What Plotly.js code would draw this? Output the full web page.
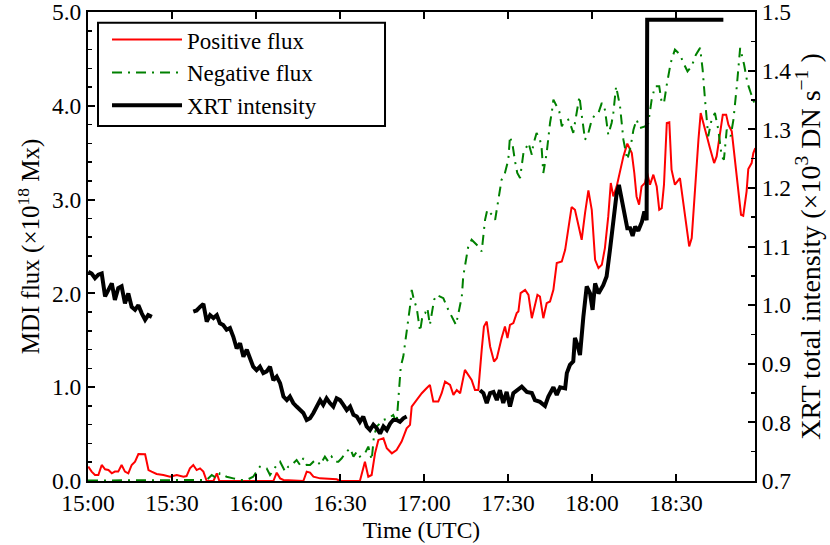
<!DOCTYPE html>
<html>
<head>
<meta charset="utf-8">
<script src="https://cdn.plot.ly/plotly-3.0.1.min.js"></script>
<style>html,body{margin:0;padding:0;background:#fff}#chart{width:830px;height:545px}</style>
</head>
<body>
<div id="chart"></div>
<script>
// minutes after 15:00 UTC
const tickVals = [0, 30, 60, 90, 120, 150, 180, 210];
const tickLabels = ["15:00", "15:30", "16:00", "16:30", "17:00", "17:30", "18:00", "18:30"];

const posTime = [0.1,1.3,2.5,3.7,4.9,6.1,7.3,8.5,9.6,10.8,12.0,13.2,14.4,15.6,16.8,18.0,20.4,21.6,22.7,24.5,26.9,29.3,31.7,34.1,35.2,36.4,37.6,38.8,40.0,41.2,42.4,44.8,46.0,46.9,66.2,67.4,68.6,69.8,76.9,78.1,79.3,80.5,82.9,86.4,88.8,90.0,97.1,98.9,100.1,101.3,102.5,103.7,105.5,106.7,108.5,110.2,112.0,113.8,115.0,115.6,117.4,119.2,120.9,122.1,123.3,125.1,126.3,127.5,129.3,130.5,131.7,132.9,134.6,135.8,137.0,138.2,139.4,140.6,141.4,142.4,143.6,145.0,146.0,147.7,148.9,149.8,150.7,151.9,153.1,153.7,154.5,156.1,157.3,158.5,159.6,160.5,161.4,162.6,163.8,165.0,166.2,167.4,169.2,170.4,172.7,173.9,175.1,176.3,177.5,178.7,179.9,181.1,182.3,183.5,184.6,185.8,186.7,187.6,188.8,190.0,191.2,192.6,194.2,195.1,195.9,196.8,197.7,198.9,199.7,200.7,201.9,203.1,204.0,204.9,205.7,206.7,207.6,208.4,209.6,211.4,212.6,213.8,214.7,215.6,216.8,218.0,218.8,219.8,221.0,222.1,223.6,224.5,225.7,226.7,227.9,228.7,229.9,231.1,232.3,233.2,234.0,235.2,235.8,237.0,237.6,238.3];
const posFlux = [0.153,0.100,0.064,0.064,0.171,0.125,0.117,0.082,0.100,0.100,0.171,0.100,0.082,0.171,0.206,0.288,0.285,0.117,0.100,0.075,0.064,0.046,0.064,0.046,0.053,0.135,0.171,0.117,0.135,0.100,0,0,0.082,0,0,0.089,0.028,0.011,0,0.100,0.089,0.046,0.028,0.018,0.018,0,0,0.206,0.046,0.064,0.295,0.438,0.455,0.349,0.295,0.331,0.420,0.562,0.598,0.793,0.864,0.936,0.989,1.025,0.847,0.847,0.936,1.060,1.025,0.918,0.971,0.936,1.185,1.131,1.078,0.971,0.971,1.398,1.647,1.700,1.434,1.274,1.309,1.523,1.647,1.523,1.665,1.683,1.790,1.807,2.003,2.038,1.985,1.736,1.860,1.985,1.967,1.736,1.896,1.914,2.038,2.323,2.341,2.465,2.921,2.892,2.732,2.572,2.857,3.098,2.892,2.359,2.270,2.305,2.483,2.821,3.177,3.034,3.141,3.319,3.461,3.597,3.497,3.284,3.034,2.946,3.141,3.177,3.284,3.159,3.266,3.141,2.892,2.910,3.159,3.817,3.824,3.319,3.159,3.230,2.981,2.714,2.501,2.590,3.177,3.639,3.924,3.799,3.675,3.550,3.390,3.461,3.711,3.906,3.906,3.799,3.728,3.426,3.070,2.839,2.828,3.088,3.326,3.390,3.497,3.550];

const negTime = [0.0,10.0,20.0,30.0,42.4,44.2,46.0,47.1,49.5,51.9,54.3,56.7,59.0,60.2,61.4,63.8,65.0,66.2,67.4,68.6,70.4,71.5,72.7,74.5,75.7,76.9,78.1,79.3,80.5,81.7,82.9,84.6,85.8,87.0,88.2,89.4,90.6,91.8,93.6,94.8,96.0,97.1,98.9,100.1,101.3,102.1,103.1,104.3,105.5,107.3,109.0,110.2,111.2,111.7,112.6,113.6,114.4,115.0,115.6,116.4,117.4,118.0,118.6,119.5,120.4,121.2,122.1,122.7,123.6,124.5,125.7,126.9,128.1,129.3,130.5,131.4,132.3,132.9,133.5,134.0,135.0,135.8,137.0,138.2,139.4,140.6,141.2,141.8,142.6,143.6,144.8,145.4,146.0,147.1,147.7,148.9,150.1,150.7,151.7,152.5,153.3,154.3,154.9,155.5,156.4,157.3,158.5,159.0,160.2,161.4,162.0,162.6,163.8,164.4,165.0,165.6,166.2,167.4,168.3,169.2,169.8,171.5,172.1,173.3,174.5,175.5,176.3,177.5,178.7,179.9,181.1,182.3,183.5,184.6,185.8,187.0,187.6,188.6,190.0,191.2,192.6,193.8,194.8,195.9,197.1,198.9,200.1,201.3,202.5,204.0,204.9,205.7,206.7,208.1,209.6,211.4,212.9,214.1,215.6,217.1,218.6,219.5,220.4,221.5,222.7,223.9,225.1,226.3,227.1,228.1,229.5,230.5,231.7,232.9,234.3,235.5,236.7,237.6,238.3];
const negFlux = [0.005,0.005,0.005,0.005,0.011,0.064,0.028,0.082,0.046,0.028,0.011,0.011,0.046,0.100,0.153,0.135,0.064,0.117,0.171,0.206,0.100,0.153,0.171,0.224,0.171,0.242,0.171,0.171,0.206,0.224,0.171,0.260,0.206,0.260,0.206,0.206,0.242,0.295,0.349,0.260,0.313,0.260,0.295,0.367,0.224,0.473,0.580,0.616,0.651,0.669,0.704,0.616,1.025,1.220,1.327,1.540,1.754,1.860,2.038,1.932,1.843,1.683,1.594,1.772,1.790,1.843,1.665,1.772,1.932,1.985,1.967,1.950,1.860,1.790,1.718,1.665,1.790,1.878,1.967,2.180,2.359,2.501,2.572,2.537,2.501,2.447,2.590,2.785,2.892,2.857,2.821,2.785,2.892,3.088,3.212,3.284,3.426,3.675,3.568,3.408,3.284,3.230,3.390,3.497,3.550,3.604,3.479,3.586,3.711,3.639,3.550,3.284,3.497,3.675,3.817,3.924,4.066,3.995,3.941,3.781,3.817,3.853,3.817,3.711,3.924,4.102,3.906,3.639,3.711,3.853,3.906,3.924,4.031,3.959,3.693,3.817,3.924,4.208,3.995,3.639,3.426,3.568,3.746,3.853,3.764,3.781,3.817,4.066,4.208,4.208,4.031,4.031,4.226,4.458,4.600,4.546,4.440,4.368,4.422,4.546,4.618,4.386,4.048,3.675,3.853,3.924,3.746,3.461,3.426,3.746,3.675,3.853,4.208,4.618,4.440,4.244,4.137,4.066,4.000];

const xrtTime = [0.1,1.3,2.5,3.7,4.9,6.1,7.3,8.5,9.6,10.8,12.0,13.2,14.4,15.6,16.8,18.0,19.2,20.4,21.5,22.8,30.0,
37.6,38.8,40.0,41.2,42.4,43.6,44.8,46.0,47.1,48.3,49.5,50.7,51.9,53.1,54.3,55.5,56.7,57.9,59.0,60.2,61.4,62.6,63.8,65.0,66.2,67.4,68.6,69.8,71.0,72.1,73.3,74.5,75.7,76.9,78.1,79.3,80.5,81.7,82.9,84.0,85.2,86.4,87.6,88.8,90.0,91.2,92.4,93.6,94.8,96.0,97.1,98.3,99.5,100.7,101.9,103.1,104.3,105.5,106.7,107.9,109.0,110.2,111.4,112.6,113.8,127.0,
140.0,141.2,142.4,143.6,144.8,146.0,147.1,148.3,149.5,150.7,151.9,153.1,154.9,156.7,158.5,159.6,161.4,163.2,164.4,166.2,167.4,168.6,170.4,171.0,172.1,173.3,173.9,174.8,175.7,176.9,178.1,179.3,180.2,181.1,182.3,184.0,185.2,186.4,187.6,188.8,189.6,190.6,191.8,192.6,193.6,194.5,195.4,196.5,197.8,198.7,199.5,199.7,226.9];
const xrtIntensity = [1.057,1.054,1.046,1.052,1.054,1.015,1.026,1.037,1.009,1.029,1.032,1.003,1.020,0.997,0.992,1.000,0.986,0.975,0.983,0.980,null,
0.989,0.991,0.997,1.002,0.972,0.983,0.978,0.983,0.969,0.966,0.958,0.961,0.946,0.926,0.935,0.912,0.924,0.906,0.895,0.889,0.895,0.884,0.887,0.895,0.872,0.878,0.867,0.844,0.838,0.844,0.833,0.827,0.821,0.816,0.804,0.807,0.816,0.827,0.838,0.830,0.841,0.833,0.827,0.841,0.838,0.830,0.821,0.827,0.813,0.810,0.801,0.810,0.793,0.787,0.796,0.790,0.781,0.793,0.787,0.798,0.804,0.804,0.801,0.807,0.810,null,
0.855,0.850,0.833,0.850,0.852,0.838,0.855,0.833,0.852,0.827,0.850,0.855,0.861,0.852,0.850,0.838,0.835,0.828,0.844,0.860,0.847,0.860,0.858,0.884,0.898,0.904,0.944,0.932,0.915,0.980,1.032,1.020,0.992,1.037,1.020,1.034,1.049,1.094,1.145,1.191,1.205,1.180,1.151,1.131,1.131,1.118,1.134,1.127,1.142,1.160,1.145,1.487,1.487];

const FONT = "Liberation Serif, Times New Roman, serif";

const traces = [
  {x: posTime, y: posFlux, name: "Positive flux", type: "scatter", mode: "lines",
   line: {color: "#ff0000", width: 2}},
  {x: negTime, y: negFlux, name: "Negative flux", type: "scatter", mode: "lines",
   line: {color: "#008000", width: 2, dash: "10px,6px,2px,6px"}},
  {x: xrtTime, y: xrtIntensity, name: "XRT intensity", type: "scatter", mode: "lines",
   yaxis: "y2", connectgaps: false, line: {color: "#000000", width: 4}}
];

const axisCommon = {
  showline: true, linecolor: "#000", linewidth: 2, showgrid: false, zeroline: false,
  ticks: "inside", ticklen: 7, tickwidth: 2, tickcolor: "#000",
  ticklabeloverflow: "allow",
  tickfont: {family: FONT, size: 23.5, color: "#000"}
};

const layout = {
  width: 830, height: 545,
  margin: {l: 88, r: 75, t: 12, b: 64},
  paper_bgcolor: "#fff", plot_bgcolor: "#fff",
  font: {family: FONT, color: "#000", size: 23},
  showlegend: true,
  legend: {x: 0.0285, y: 0.987, xanchor: "left", yanchor: "top",
           bgcolor: "rgba(0,0,0,0)", borderwidth: 0,
           font: {family: FONT, size: 23, color: "#000"},
           itemwidth: 70, tracegroupgap: 0},
  shapes: [
    {type: "rect", xref: "paper", yref: "paper", x0: 0.015, x1: 0.4453, y0: 0.757, y1: 0.9772,
     line: {color: "#000", width: 2}, fillcolor: "#fff", layer: "above"}
  ],
  xaxis: Object.assign({}, axisCommon, {
    range: [0, 238.2], tickmode: "array", tickvals: tickVals, ticktext: tickLabels,
    mirror: "ticks",
    title: {text: "Time (UTC)", font: {family: FONT, size: 23.5}, standoff: 6}
  }),
  yaxis: Object.assign({}, axisCommon, {
    range: [0, 5.0005], dtick: 1, tickformat: ".1f", mirror: true,
    minor: {dtick: 0.2, ticklen: 4, tickwidth: 1.5, tickcolor: "#000", ticks: "inside"},
    title: {text: "MDI flux (×10<sup>18</sup> Mx)", font: {family: FONT, size: 25}, standoff: 5}
  }),
  yaxis2: Object.assign({}, axisCommon, {
    overlaying: "y", side: "right", range: [0.7, 1.50008], dtick: 0.1, tickformat: ".1f",
    minor: {dtick: 0.05, ticklen: 4, tickwidth: 1.5, tickcolor: "#000", ticks: "inside"},
    title: {text: "XRT total intensity (×10<sup>3</sup> DN s<sup>−1</sup> )", font: {family: FONT, size: 28}, standoff: 7}
  })
};

Plotly.newPlot("chart", traces, layout, {displayModeBar: false, staticPlot: true});
</script>
</body>
</html>
